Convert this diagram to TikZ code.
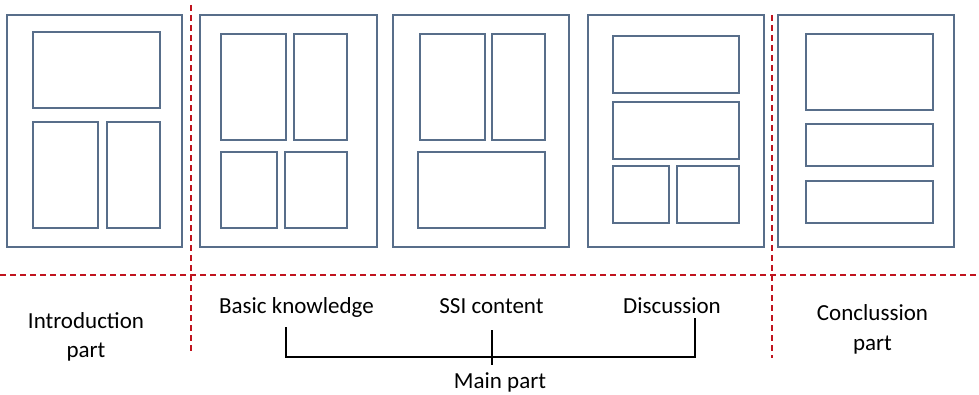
\documentclass[tikz,border=0pt]{standalone}
\usepackage{fontspec}
\setmainfont{Carlito}
\usepackage{xcolor}
\usetikzlibrary{positioning}
\definecolor{PageSlate}{RGB}{88,110,138}
\definecolor{CutRed}{RGB}{192,20,30}
\tikzset{
  page/.style={draw=PageSlate, line width=1pt},
  block/.style={draw=PageSlate, line width=1pt},
  cutline/.style={draw=CutRed, line width=0.75pt, dash pattern=on 3pt off 2pt},
  bracket/.style={draw=black, line width=0.7pt},
  lbl/.style={inner sep=0pt, font=\fontsize{11.5}{14}\selectfont, anchor=base},
}
\begin{document}
\begin{tikzpicture}[x=0.5pt, y=-0.5pt]
    \useasboundingbox (0,0) rectangle (979,395);
    %% introduction page
    \draw[page]  (7,15)   rectangle (182,247);
    \draw[block] (33,32)  rectangle (160,108);
    \draw[block] (33,122) rectangle (98,228);
    \draw[block] (107,122) rectangle (160,228);
    %% basic knowledge page
    \draw[page]  (200,15) rectangle (377,247);
    \draw[block] (221,34) rectangle (286,140);
    \draw[block] (294,34) rectangle (347,140);
    \draw[block] (221,152) rectangle (277,228);
    \draw[block] (285,152) rectangle (347,228);
    %% SSI content page
    \draw[page]  (393,15) rectangle (569,247);
    \draw[block] (420,34) rectangle (485,140);
    \draw[block] (492,34) rectangle (545,140);
    \draw[block] (418,152) rectangle (545,228);
    %% discussion page
    \draw[page]  (588,15) rectangle (764,247);
    \draw[block] (613,36) rectangle (739,93);
    \draw[block] (613,102) rectangle (739,159);
    \draw[block] (613,166) rectangle (669,223);
    \draw[block] (677,166) rectangle (739,223);
    %% conclusion page
    \draw[page]  (778,15) rectangle (954,247);
    \draw[block] (806,34) rectangle (933,110);
    \draw[block] (806,124) rectangle (933,166);
    \draw[block] (806,181) rectangle (933,223);
    %% dashed separators
    \draw[cutline] (0,275) -- (979,275);
    \draw[cutline] (191,5) -- (191,352);
    \draw[cutline] (772,15) -- (772,358);
    %% labels
    \node[lbl] (intro)  at (86,328) {Introduction};
    \node[lbl] (introP) at ([yshift=-14.5pt]intro.base) {part};
    \node[lbl] (basic)  at (296.5,314) {Basic knowledge};
    \node[lbl] (ssi)    at (491.5,314) {SSI content};
    \node[lbl] (disc)   at (672,314) {Discussion};
    \node[lbl] (concl)  at (872.5,320) {Conclussion};
    \node[lbl] (conclP) at ([yshift=-15pt]concl.base) {part};
    \node[lbl] (main)   at (500,388) {Main part};
    %% bracket under the main part
    \coordinate (bkTop) at (286,327);
    \coordinate (bkBar) at (286,357);
    \coordinate (dsTop) at (695,318);
    \coordinate (dsBar) at (695,357);
    \coordinate (ssTop) at (492,330);
    \coordinate (ssBot) at (492,365);
    \draw[bracket] (bkTop) -- (bkBar) -- (dsBar) -- (dsTop);
    \draw[bracket] (ssTop) -- (ssBot);
  \end{tikzpicture}
\end{document}
